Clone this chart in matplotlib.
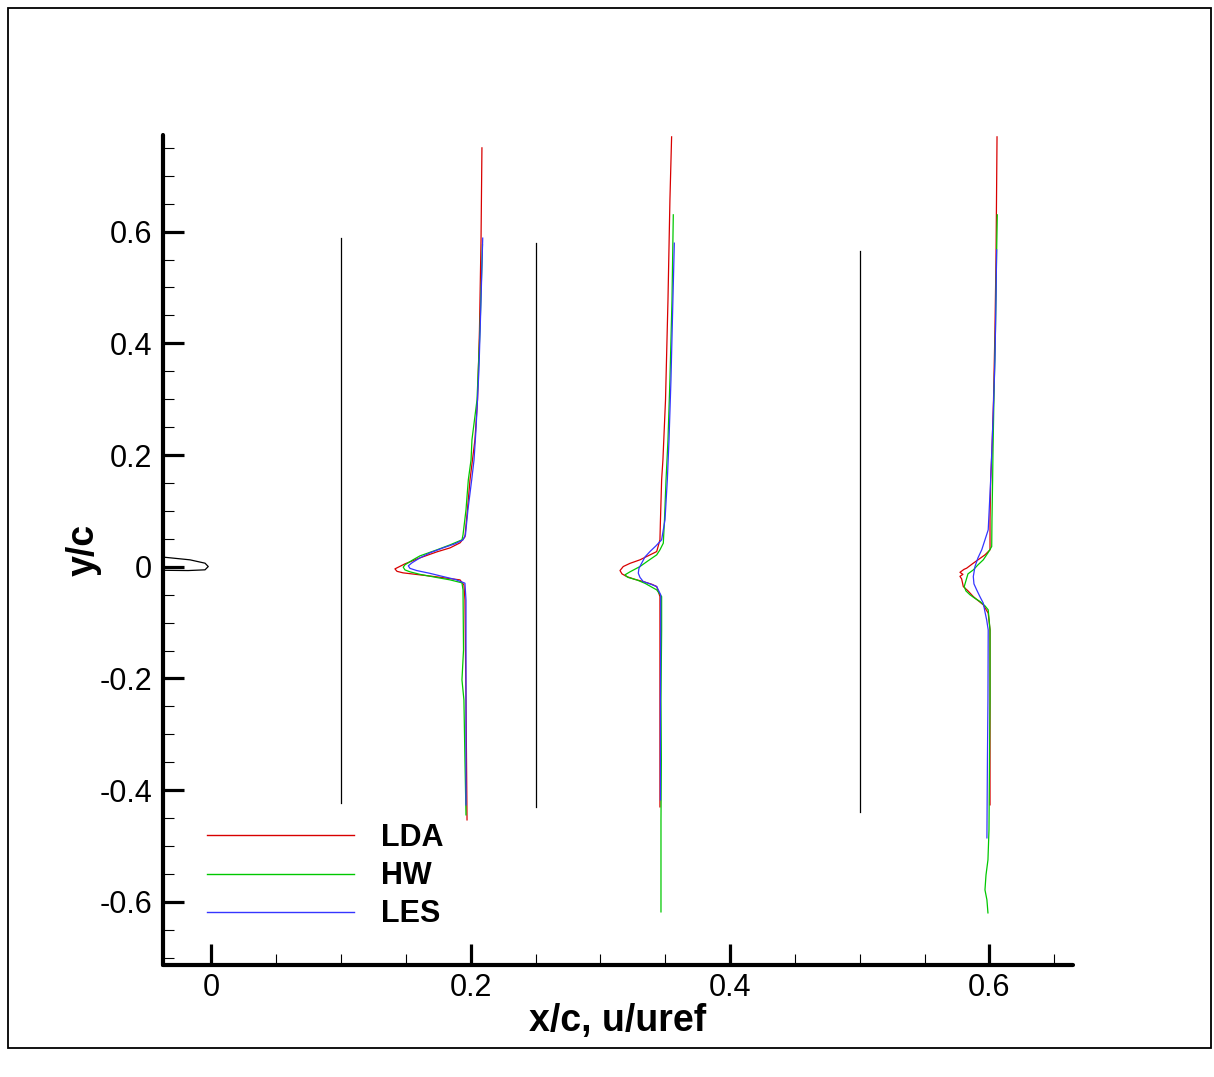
import matplotlib
matplotlib.use("Agg")
import matplotlib.pyplot as plt
from matplotlib.patches import Rectangle
from matplotlib.lines import Line2D
from matplotlib.ticker import MultipleLocator, FixedLocator

plt.rcParams['font.family'] = ['Liberation Sans', 'DejaVu Sans']

# ---------------- data (x/c, u/uref offset profiles ; y/c) ----------------
stations = [0.1, 0.25, 0.5]
station_top = [0.589, 0.580, 0.566]
station_bottom = [-0.423, -0.430, -0.439]

airfoil_x = [-0.045, -0.034, -0.0166, -0.005, -0.0025, -0.005, -0.018, -0.034, -0.045]
airfoil_y = [0.019, 0.0165, 0.0124, 0.0064, 0.0004, -0.0055, -0.0068, -0.0064, -0.006]

# Station x/c = 0.1
p1_lda_x = [0.2086, 0.2079, 0.2067, 0.2052, 0.2032, 0.1994, 0.1974, 0.1955, 0.1917, 0.1840, 0.1739,
            0.1608, 0.1492, 0.1415, 0.1431, 0.1477, 0.1608, 0.1739, 0.1855, 0.1917, 0.1947, 0.1955,
            0.1959, 0.1963, 0.1967, 0.1971]
p1_lda_y = [0.750, 0.5853, 0.4242, 0.2988, 0.2272, 0.1556, 0.1019, 0.0535, 0.0428, 0.0338, 0.0267,
            0.0159, 0.0052, -0.0038, -0.0082, -0.0109, -0.0145, -0.0181, -0.0217, -0.0235, -0.0324, -0.0593,
            -0.1488, -0.2383, -0.3457, -0.4532]
p1_hw_x = [0.2090, 0.2071, 0.2048, 0.2009, 0.2002, 0.1981, 0.1963, 0.1940, 0.1932, 0.1840, 0.1739,
           0.1608, 0.1554, 0.1492, 0.1479, 0.1492, 0.1531, 0.1608, 0.1739, 0.1840, 0.1932, 0.1940,
           0.1944, 0.1932, 0.1947, 0.1955, 0.1963]
p1_hw_y = [0.5764, 0.4242, 0.2988, 0.2272, 0.1914, 0.1556, 0.1019, 0.0571, 0.0482, 0.0392, 0.0303,
           0.0195, 0.0124, 0.0034, -0.0007, -0.0056, -0.0091, -0.0136, -0.0193, -0.0235, -0.0288, -0.0414,
           -0.1488, -0.2025, -0.2383, -0.3457, -0.4442]
p1_les_x = [0.2092, 0.2079, 0.2063, 0.2040, 0.2025, 0.2007, 0.1978, 0.1959, 0.1940, 0.1878, 0.1786,
            0.1685, 0.1608, 0.1546, 0.1518, 0.1531, 0.1583, 0.1685, 0.1786, 0.1878, 0.1955, 0.1963,
            0.1963, 0.1963, 0.1963, 0.1963]
p1_les_y = [0.5884, 0.4779, 0.3526, 0.2451, 0.1914, 0.1556, 0.1019, 0.0571, 0.0482, 0.0410, 0.0338,
            0.0249, 0.0159, 0.0070, 0.0016, -0.0029, -0.0068, -0.0118, -0.0175, -0.0226, -0.0294, -0.0593,
            -0.1488, -0.2383, -0.3457, -0.4264]

# Station x/c = 0.25
p2_lda_x = [0.3549, 0.3536, 0.3521, 0.3502, 0.3482, 0.3472, 0.3463, 0.3459, 0.3434, 0.3367, 0.3305,
            0.3228, 0.3176, 0.3151, 0.3166, 0.3202, 0.3266, 0.3330, 0.3398, 0.3434, 0.3459, 0.3459,
            0.3459, 0.3459, 0.3459]
p2_lda_y = [0.7697, 0.6569, 0.4779, 0.2988, 0.1914, 0.1556, 0.0840, 0.0482, 0.0272, 0.0195, 0.0124,
            0.0061, 0.0004, -0.0068, -0.0127, -0.0175, -0.0226, -0.0265, -0.0315, -0.0355, -0.0534, -0.1130,
            -0.2383, -0.3457, -0.4299]
p2_hw_x = [0.3562, 0.3552, 0.3536, 0.3521, 0.3506, 0.3494, 0.3485, 0.3459, 0.3434, 0.3367, 0.3305,
           0.3228, 0.3189, 0.3212, 0.3280, 0.3344, 0.3434, 0.3472, 0.3472, 0.3467, 0.3470, 0.3467,
           0.3467, 0.3467]
p2_hw_y = [0.6301, 0.4779, 0.3346, 0.2272, 0.1556, 0.0840, 0.0423, 0.0303, 0.0213, 0.0106, 0.0004,
           -0.0091, -0.0145, -0.0190, -0.0235, -0.0297, -0.0414, -0.0534, -0.1130, -0.2383, -0.3457, -0.4532,
           -0.5606, -0.6179]
p2_les_x = [0.3570, 0.3559, 0.3544, 0.3529, 0.3516, 0.3498, 0.3472, 0.3428, 0.3382, 0.3344, 0.3318,
            0.3297, 0.3292, 0.3305, 0.3330, 0.3382, 0.3434, 0.3465, 0.3465, 0.3463, 0.3463]
p2_les_y = [0.5794, 0.4779, 0.3346, 0.2272, 0.1556, 0.0840, 0.0482, 0.0374, 0.0272, 0.0177, 0.0064,
            -0.0029, -0.0115, -0.0190, -0.0265, -0.0306, -0.0355, -0.0503, -0.1130, -0.2383, -0.4174]

# Station x/c = 0.5
p3_lda_x = [0.6059, 0.6055, 0.6051, 0.6043, 0.6032, 0.6020, 0.6010, 0.6005, 0.6005, 0.5966, 0.5876,
            0.5825, 0.5804, 0.5773, 0.5796, 0.5773, 0.5786, 0.5799, 0.5835, 0.5876, 0.5953, 0.5991,
            0.6005, 0.6005, 0.6005, 0.6005]
p3_lda_y = [0.7697, 0.6569, 0.5495, 0.4242, 0.2988, 0.2093, 0.1556, 0.0840, 0.0303, 0.0213, 0.0064,
            -0.0025, -0.0047, -0.0100, -0.0136, -0.0172, -0.0217, -0.0355, -0.0432, -0.0534, -0.0682, -0.0831,
            -0.1130, -0.2383, -0.3457, -0.4263]
p3_hw_x = [0.6061, 0.6055, 0.6047, 0.6035, 0.6028, 0.6025, 0.6020, 0.6018, 0.5989, 0.5953, 0.5912,
           0.5876, 0.5835, 0.5825, 0.5806, 0.5819, 0.5851, 0.5889, 0.5928, 0.5966, 0.5991, 0.6005,
           0.6005, 0.6001, 0.5997, 0.5989, 0.5974, 0.5966, 0.5981, 0.5989]
p3_hw_y = [0.6301, 0.5495, 0.4242, 0.2988, 0.2093, 0.1556, 0.0840, 0.0362, 0.0249, 0.0124, 0.0034,
           -0.0056, -0.0127, -0.0204, -0.0355, -0.0432, -0.0503, -0.0566, -0.0623, -0.0700, -0.0772, -0.1130,
           -0.2383, -0.3457, -0.4711, -0.5248, -0.5517, -0.5785, -0.5964, -0.6197]
p3_les_x = [0.6056, 0.6051, 0.6043, 0.6028, 0.6016, 0.6010, 0.5991, 0.5966, 0.5941, 0.5912, 0.5889,
            0.5876, 0.5881, 0.5902, 0.5928, 0.5953, 0.5966, 0.5979, 0.5991, 0.5989, 0.5985, 0.5981]
p3_les_y = [0.5674, 0.4779, 0.3705, 0.2630, 0.1914, 0.1556, 0.0661, 0.0482, 0.0303, 0.0159, 0.0004,
            -0.0175, -0.0306, -0.0414, -0.0539, -0.0652, -0.0808, -0.0951, -0.1130, -0.2383, -0.3457, -0.4854]

series_labels = ['LDA', 'HW', 'LES']
series_colors = ['#d80000', '#00c800', '#3535ff']

x_major = [0, 0.2, 0.4, 0.6]
x_major_labels = ['0', '0.2', '0.4', '0.6']
y_major = [-0.6, -0.4, -0.2, 0, 0.2, 0.4, 0.6]
y_major_labels = ['-0.6', '-0.4', '-0.2', '0', '0.2', '0.4', '0.6']

# ---------------- figure ----------------
W, H = 1214, 1077
fig = plt.figure(figsize=(W / 100, H / 100), dpi=100)
fig.patches.append(Rectangle((8 / W, 1 - 1048 / H), (1211 - 8) / W, (1048 - 8) / H,
                             transform=fig.transFigure, fill=False, edgecolor='black',
                             linewidth=1.3, zorder=0))

ax = fig.add_axes([163 / W, 1 - 965 / H, (1073 - 163) / W, (965 - 135) / H])
ax.set_xlim(-0.0374, 0.6645)
ax.set_ylim(-0.713, 0.773)

for s, yt, yb in zip(stations, station_top, station_bottom):
    ax.plot([s, s], [yb, yt], color='black', lw=0.9)

ax.plot(airfoil_x, airfoil_y, color='black', lw=0.9)

profiles = [
    [(p1_lda_x, p1_lda_y), (p1_hw_x, p1_hw_y), (p1_les_x, p1_les_y)],
    [(p2_lda_x, p2_lda_y), (p2_hw_x, p2_hw_y), (p2_les_x, p2_les_y)],
    [(p3_lda_x, p3_lda_y), (p3_hw_x, p3_hw_y), (p3_les_x, p3_les_y)],
]
for prof in profiles:
    for (px, py), c in zip(prof, series_colors):
        ax.plot(px, py, color=c, lw=0.9)

for side in ['top', 'right']:
    ax.spines[side].set_visible(False)
for side in ['left', 'bottom']:
    ax.spines[side].set_linewidth(3.0)
    ax.spines[side].set_capstyle('round')

ax.xaxis.set_major_locator(FixedLocator(x_major))
ax.set_xticklabels(x_major_labels)
ax.yaxis.set_major_locator(FixedLocator(y_major))
ax.set_yticklabels(y_major_labels)
ax.xaxis.set_minor_locator(MultipleLocator(0.05))
ax.yaxis.set_minor_locator(MultipleLocator(0.05))

ax.tick_params(which='major', direction='in', length=15, width=2.3, labelsize=22, color='black')
ax.tick_params(which='minor', direction='in', length=8, width=0.8, color='black')
ax.tick_params(axis='y', which='major', pad=8)
ax.tick_params(axis='x', which='major', pad=6)

ax.set_xlabel('x/c, u/uref', fontsize=27, fontweight='bold')
ax.set_ylabel('y/c', fontsize=27, fontweight='bold')
ax.xaxis.set_label_coords(0.5, -(1003 - 965) / 830)
ax.yaxis.set_label_coords(-(163 - 102) / 910, 0.5)

handles = [Line2D([], [], color=c, lw=1.0) for c in series_colors]
leg = ax.legend(handles, series_labels, loc='upper left',
                bbox_to_anchor=(207 / W, 1 - 823 / H), bbox_transform=fig.transFigure,
                frameon=False, handlelength=4.8, handletextpad=0.9, labelspacing=0.27,
                borderpad=0, borderaxespad=0,
                prop={'family': 'Liberation Sans', 'weight': 'bold', 'size': 22})

fig.savefig('out.png', dpi=100)
